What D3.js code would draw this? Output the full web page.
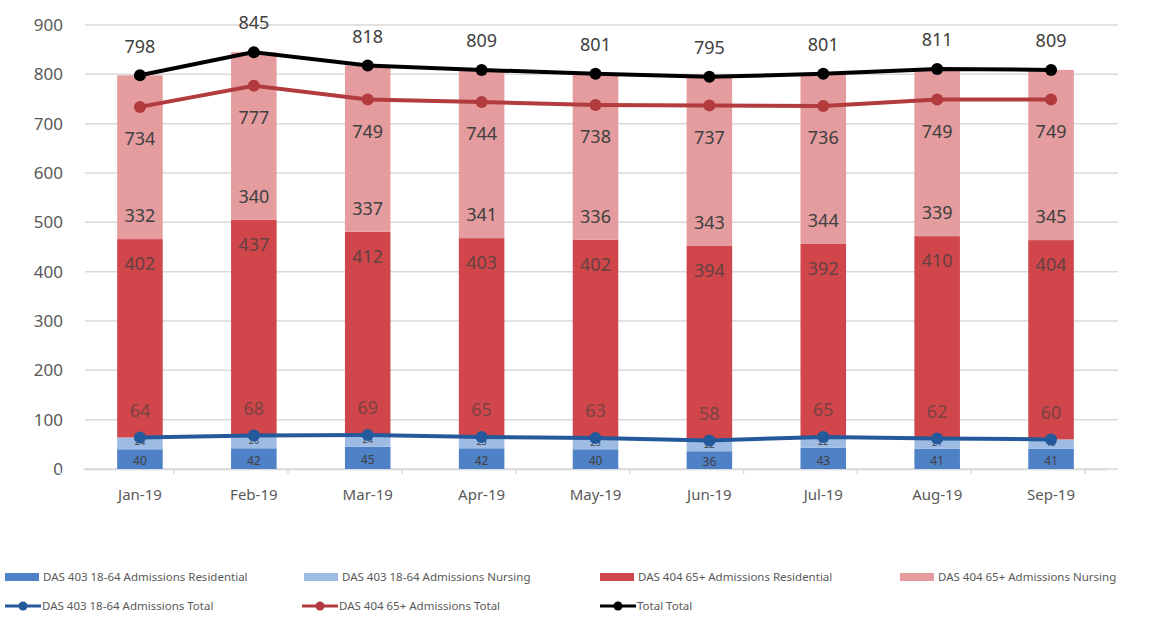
<!DOCTYPE html>
<html>
<head>
<meta charset="utf-8">
<script src="https://cdn.jsdelivr.net/npm/d3@7"></script>
<style>
  body { margin: 0; background: #fff; }
  text { font-family: "Noto Sans", "Open Sans", sans-serif; }
</style>
</head>
<body>
<svg></svg>
<script>
// Chart size
const width = 1158, height = 617;
const margin = { top: 25, right: 50, bottom: 148, left: 83 };

const svg = d3.select("svg")
    .attr("width", width)
    .attr("height", height);

// Data
const months = ["Jan-19", "Feb-19", "Mar-19", "Apr-19", "May-19", "Jun-19", "Jul-19", "Aug-19", "Sep-19"];
const res1864 = [40, 42, 45, 42, 40, 36, 43, 41, 41];
const nur1864 = [24, 26, 24, 23, 23, 22, 22, 21, 19];
const res65 = [402, 437, 412, 403, 402, 394, 392, 410, 404];
const nur65 = [332, 340, 337, 341, 336, 343, 344, 339, 345];
const total1864 = [64, 68, 69, 65, 63, 58, 65, 62, 60];
const total65 = [734, 777, 749, 744, 738, 737, 736, 749, 749];
const totalAll = [798, 845, 818, 809, 801, 795, 801, 811, 809];
const yTicks = [0, 100, 200, 300, 400, 500, 600, 700, 800, 900];

const barKeys = ["res1864", "nur1864", "res65", "nur65"];
const barColors = { res1864: "#4f81c7", nur1864: "#9dbbe3", res65: "#d0464a", nur65: "#e49c9e" };

const rows = months.map((m, i) => ({
    month: m,
    res1864: res1864[i], nur1864: nur1864[i], res65: res65[i], nur65: nur65[i],
    t1864: total1864[i], t65: total65[i], tAll: totalAll[i]
}));

// Scales
const x = d3.scaleBand().domain(months)
    .range([margin.left, width - margin.right]).paddingInner(0.6).paddingOuter(0.3);
const y = d3.scaleLinear().domain([0, 900]).range([height - margin.bottom, margin.top]);
const cx = d => x(d.month) + x.bandwidth() / 2;

// Gridlines
svg.append("g")
    .selectAll("line")
    .data(yTicks)
    .enter()
    .append("line")
    .attr("x1", margin.left + 2)
    .attr("x2", width - margin.right + 10)
    .attr("y1", d => y(d))
    .attr("y2", d => y(d))
    .attr("stroke", "#d9d9d9")
    .attr("stroke-width", 1.5);

// Y axis labels
const yAxis = svg.append("g")
    .attr("transform", `translate(${margin.left - 20}, 0)`)
    .call(d3.axisLeft(y).tickValues(yTicks).tickSize(0).tickPadding(0));
yAxis.select(".domain").remove();
yAxis.selectAll("text")
    .attr("font-size", "17px")
    .attr("fill", "#595959");

// X axis
const xAxis = svg.append("g")
    .attr("transform", `translate(0, ${y(0)})`)
    .call(d3.axisBottom(x).tickSize(0).tickPadding(20));
xAxis.select(".domain").attr("stroke", "#d9d9d9").attr("stroke-width", 1.5);
xAxis.selectAll("text")
    .attr("font-size", "15px")
    .attr("fill", "#595959");

// small ticks between categories
const step = x.step();
svg.append("g")
    .selectAll("line")
    .data(d3.range(months.length + 1))
    .enter()
    .append("line")
    .attr("x1", i => x(months[0]) - step * 0.5 + i * step)
    .attr("x2", i => x(months[0]) - step * 0.5 + i * step)
    .attr("y1", y(0))
    .attr("y2", y(0) + 5)
    .attr("stroke", "#d9d9d9")
    .attr("stroke-width", 1.5);

// Stacked bars
const stack = d3.stack().keys(barKeys)(rows);
svg.append("g")
    .selectAll("g")
    .data(stack)
    .enter()
    .append("g")
    .attr("fill", d => barColors[d.key])
    .selectAll("rect")
    .data(d => d)
    .enter()
    .append("rect")
    .attr("x", d => x(d.data.month))
    .attr("width", x.bandwidth())
    .attr("y", d => y(d[1]))
    .attr("height", d => y(d[0]) - y(d[1]));

// Bar labels
const labelColor = "#404040";
const labelSpecs = [
    { key: "res1864", pos: d => (y(d[0]) + y(d[1])) / 2 + 2, size: 12 },
    { key: "nur1864", pos: d => (y(d[0]) + y(d[1])) / 2 - 1, size: 9 },
    { key: "res65", pos: d => y(d[1]) + 25, size: 18 },
    { key: "nur65", pos: d => y(d[0]) - 23, size: 18 }
];
labelSpecs.forEach(spec => {
    const layer = stack.find(s => s.key === spec.key);
    svg.append("g")
        .selectAll("text")
        .data(layer)
        .enter()
        .append("text")
        .attr("x", d => cx(d.data))
        .attr("y", spec.pos)
        .attr("dy", "0.35em")
        .attr("text-anchor", "middle")
        .attr("font-size", spec.size + "px")
        .attr("fill", labelColor)
        .attr("opacity", spec.key === "res65" ? 0.75 : 1)
        .text(d => d.data[spec.key]);
});

// Lines
const lineSpecs = [
    { key: "t1864", color: "#245a9c", offset: -27 },
    { key: "t65", color: "#b23b3e", offset: 32 },
    { key: "tAll", color: "#000000", offset: -29 }
];
lineSpecs.forEach(spec => {
    const line = d3.line().x(cx).y(d => y(d[spec.key]));
    svg.append("path")
        .datum(rows)
        .attr("d", line)
        .attr("fill", "none")
        .attr("stroke", spec.color)
        .attr("stroke-width", 4);
    svg.append("g")
        .selectAll("circle")
        .data(rows)
        .enter()
        .append("circle")
        .attr("cx", cx)
        .attr("cy", d => y(d[spec.key]))
        .attr("r", 6)
        .attr("fill", spec.color);
    svg.append("g")
        .selectAll("text")
        .data(rows)
        .enter()
        .append("text")
        .attr("x", cx)
        .attr("y", d => y(d[spec.key]) + spec.offset)
        .attr("dy", "0.35em")
        .attr("text-anchor", "middle")
        .attr("font-size", "18px")
        .attr("fill", labelColor)
        .attr("opacity", spec.key === "t1864" ? 0.6 : 1)
        .text(d => d[spec.key]);
});

// Legend
const legendItems = [
    { name: "DAS 403 18-64 Admissions Residential", type: "bar", color: barColors.res1864, x: 5, y: 577 },
    { name: "DAS 403 18-64 Admissions Nursing", type: "bar", color: barColors.nur1864, x: 304, y: 577 },
    { name: "DAS 404 65+ Admissions Residential", type: "bar", color: barColors.res65, x: 600, y: 577 },
    { name: "DAS 404 65+ Admissions Nursing", type: "bar", color: barColors.nur65, x: 900, y: 577 },
    { name: "DAS 403 18-64 Admissions Total", type: "line", color: "#245a9c", x: 5, y: 606 },
    { name: "DAS 404 65+ Admissions Total", type: "line", color: "#b23b3e", x: 302, y: 606 },
    { name: "Total Total", type: "line", color: "#000000", x: 600, y: 606 }
];
const legend = svg.append("g")
    .selectAll("g")
    .data(legendItems)
    .enter()
    .append("g")
    .attr("transform", d => `translate(${d.x}, ${d.y})`);
legend.filter(d => d.type === "bar")
    .append("rect")
    .attr("x", 0).attr("y", -4)
    .attr("width", 34).attr("height", 8)
    .attr("fill", d => d.color);
legend.filter(d => d.type === "line")
    .append("line")
    .attr("x1", 0).attr("x2", 36)
    .attr("stroke", d => d.color)
    .attr("stroke-width", 3);
legend.filter(d => d.type === "line")
    .append("circle")
    .attr("cx", 18).attr("r", 4.5)
    .attr("fill", d => d.color);
legend.append("text")
    .attr("x", d => d.type === "bar" ? 38 : 37)
    .attr("dy", "0.35em")
    .attr("font-size", "11.5px")
    .attr("fill", "#595959")
    .text(d => d.name);
</script>
</body>
</html>
